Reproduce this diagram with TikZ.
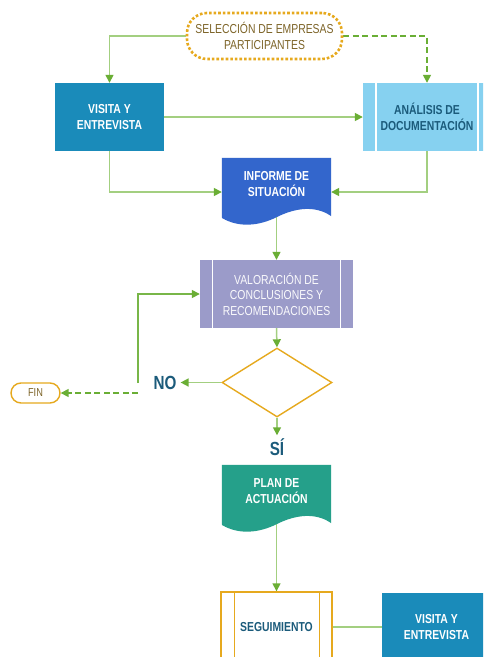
\documentclass[tikz,border=0pt]{standalone}
\usepackage{fontspec}
\setmainfont{Liberation Sans}
\newfontfamily\cond{Liberation Sans}[FakeStretch=0.8]
\usetikzlibrary{arrows.meta,shapes.geometric}
\definecolor{lgreen}{HTML}{A3CF80}
\definecolor{dgreen}{HTML}{6AAE35}
\definecolor{gold}{HTML}{E6A91E}
\definecolor{tbrown}{HTML}{7D6428}
\definecolor{teal1}{HTML}{1A8BBA}
\definecolor{sky}{HTML}{86D1F0}
\definecolor{navy}{HTML}{1B5B7B}
\definecolor{royal}{HTML}{3366CC}
\definecolor{lav}{HTML}{9B9BC9}
\definecolor{sea}{HTML}{25A08A}
\pgfdeclarelayer{paper}
\pgfdeclarelayer{lines}
\pgfdeclarelayer{shapes}
\pgfsetlayers{paper,lines,shapes,main}
\begin{document}
\begin{tikzpicture}[x=1pt,y=-1pt,
  txt/.style={font=\cond\fontsize{13}{15.5}\selectfont, align=center, inner sep=0pt},
  boldtxt/.style={txt, font=\cond\bfseries\fontsize{13}{15.5}\selectfont},
  bluebox/.style={boldtxt, fill=teal1, text=white, minimum width=109pt, minimum height=68pt},
  docbox/.style={boldtxt, text=white, minimum width=109pt, minimum height=52pt},
  flow/.style={draw=lgreen, line width=1.5pt, -{Triangle[length=8pt,width=8pt,color=dgreen]}},
  flowdash/.style={draw=dgreen, line width=1.5pt, dash pattern=on 6pt off 3.5pt, -{Triangle[length=8pt,width=8pt,color=dgreen]}},
  plain/.style={draw=lgreen, line width=1.5pt},
  answer/.style={font=\cond\bfseries\fontsize{19}{20}\selectfont, text=navy, inner sep=0pt},
  sideline/.style={draw=white, line width=1.5pt}
]
\clip (0,0) rectangle (483,657);
\begin{pgfonlayer}{paper}
\fill[white] (0,0) rectangle (483,657);
\end{pgfonlayer}

% nodes
\node[txt, text=tbrown, draw=gold, line width=2.6pt, dotted, rounded corners=20pt,
      minimum width=155pt, minimum height=46pt] (sel) at (264.5,36) {SELECCIÓN DE EMPRESAS\\PARTICIPANTES};
\node[bluebox] (vis) at (109.5,117) {VISITA Y\\ENTREVISTA};
\node[boldtxt, fill=sky, text=navy, minimum width=128pt, minimum height=68pt] (ana) at (427,117) {ANÁLISIS DE\\DOCUMENTACIÓN};
\node[docbox] (inf) at (276.5,184) {INFORME DE\\SITUACIÓN};
\node[txt, fill=lav, text=white!95!lav, minimum width=153pt, minimum height=68pt] (val) at (276.5,294) {VALORACIÓN DE\\CONCLUSIONES Y\\RECOMENDACIONES};
\node[diamond, draw=gold, line width=1.4pt, fill=white, minimum width=110pt, minimum height=69pt, inner sep=0pt, aspect=1.6] (dec) at (277,382.5) {};
\node[answer] (no) at (165,382.5) {NO};
\node[txt, font=\cond\fontsize{11.5}{13}\selectfont, text=tbrown, draw=gold, line width=1.4pt, rounded corners=10pt,
      minimum width=49pt, minimum height=20pt] (fin) at (35.5,393) {FIN};
\node[answer] (si) at (277,447) {SÍ};
\node[docbox] (plan) at (276.5,491) {PLAN DE\\ACTUACIÓN};
\node[boldtxt, text=navy, draw=gold, line width=1.4pt, minimum width=111pt, minimum height=70pt] (seg) at (276.5,627) {SEGUIMIENTO};
\node[bluebox] (vis2) at (436.5,627) {VISITA Y\\ENTREVISTA};

\coordinate (loopstart) at (138,383);
\coordinate (finstart) at (138,393);

% side lines of predefined processes
\draw[sideline] ([xshift=13pt]ana.north west) -- ([xshift=13pt]ana.south west);
\draw[sideline] ([xshift=-13pt]ana.north east) -- ([xshift=-13pt]ana.south east);
\draw[sideline] ([xshift=12.5pt]val.north west) -- ([xshift=12.5pt]val.south west);
\draw[sideline] ([xshift=-12.5pt]val.north east) -- ([xshift=-12.5pt]val.south east);
\draw[gold, line width=1.4pt] ([xshift=14pt]seg.north west) -- ([xshift=14pt]seg.south west);
\draw[gold, line width=1.4pt] ([xshift=-13pt]seg.north east) -- ([xshift=-13pt]seg.south east);

% document shapes
\begin{pgfonlayer}{shapes}
\fill[royal] (inf.north west) -- (inf.north east) -- (331,216)
  .. controls (315,205) and (295,208) .. (277,217)
  .. controls (259,226) and (239,228) .. (222,218) -- cycle;
\fill[sea] (plan.north west) -- (plan.north east) -- (331,523)
  .. controls (315,512) and (295,515) .. (277,524)
  .. controls (259,533) and (239,535) .. (222,525) -- cycle;
\end{pgfonlayer}

% connectors
\begin{pgfonlayer}{lines}
\draw[flow] (sel.west) -| (vis.north);
\draw[flowdash] (sel.east) -| (ana.north);
\draw[flow] (vis.east) -- (ana.west);
\draw[flow] (vis.south) |- ([yshift=-8pt]inf.west);
\draw[flow] (ana.south) |- ([yshift=-8pt]inf.east);
\draw[flow] (inf.south) -- (val.north);
\draw[flow] (val.south) -- (dec.north);
\draw[flow] (dec.west) -- ([xshift=4pt]no.east);
\draw[flow, draw=dgreen!75!lgreen] (loopstart) |- (val.west);
\draw[flowdash] (finstart) -- (fin.east);
\draw[flow] (dec.south) -- ([yshift=3pt]si.north);
\draw[flow] (plan.south) -- (seg.north);
\draw[plain] (seg.east) -- (vis2.west);
\end{pgfonlayer}
\end{tikzpicture}
\end{document}
